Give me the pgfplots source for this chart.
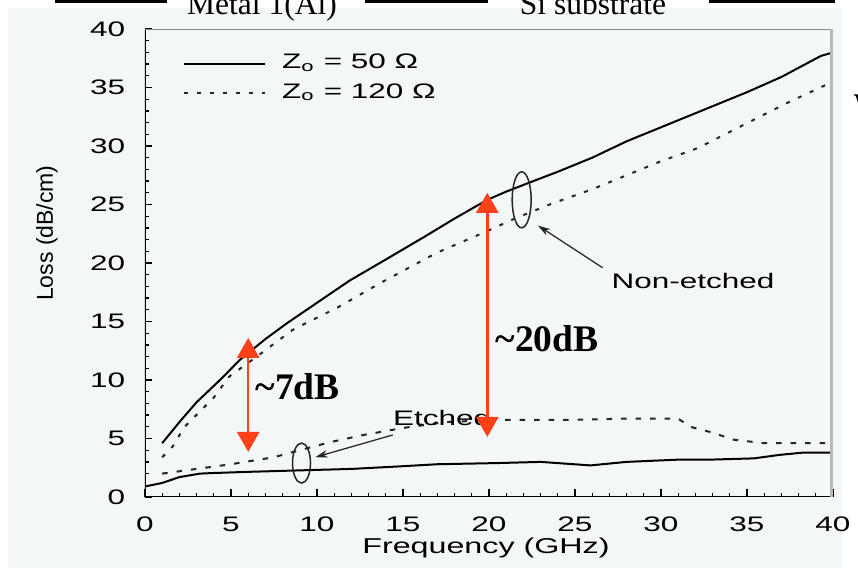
\documentclass[border=0pt]{standalone}
\usepackage{fontspec}
\setmainfont{Liberation Sans}
\newfontfamily\wsans[FakeStretch=1.5]{Liberation Sans}
\newfontfamily\tnr{Liberation Serif}
\usepackage{pgfplots}
\pgfplotsset{compat=1.18}
\usetikzlibrary{arrows.meta}
\definecolor{bggray}{RGB}{244,247,247}
\definecolor{annred}{RGB}{255,64,25}

\pgfplotstableread{
x y
1 4.6
2 6.4
3 8.1
4.5 10.2
5.5 11.7
7 13.5
8.3 14.9
10 16.6
11.9 18.5
14 20.3
16.2 22.2
18 23.8
19.9 25.4
21 26.1
22.4 26.9
24 27.8
26 29.0
28 30.4
31 32.2
33 33.4
35 34.6
37 35.9
39.3 37.7
40 38.0
}\nefifty

\pgfplotstableread{
x y
1 3.4
1.6 4.3
2.3 6.0
4 8.5
4.9 10.3
6.5 12.0
8.6 14.3
11.2 16.2
13.7 18.3
17 20.9
19.7 22.6
21.5 23.8
23.7 25.1
26 26.3
28 27.5
30 28.7
32.1 29.8
34 31.2
35.6 32.4
37.5 33.8
40 35.5
}\neonetwenty

\pgfplotstableread{
x y
0 0.9
1 1.2
2 1.7
3.2 2.0
4 2.05
6 2.15
9.6 2.3
12 2.4
14.6 2.6
17 2.8
20.5 2.9
23 3.0
25.9 2.7
28 3.0
31.1 3.2
33 3.2
35.4 3.3
36.9 3.6
38.3 3.8
40 3.8
}\etfifty

\pgfplotstableread{
x y
1 2.0
3 2.4
5 2.8
7.5 3.4
9 4.0
10.8 4.7
12.7 5.3
15 5.9
17.5 6.4
20.5 6.6
25 6.6
28 6.7
31 6.7
31.7 6.0
33 5.5
34.2 4.9
36 4.6
40 4.6
}\etonetwenty

\begin{document}
\begin{tikzpicture}
\useasboundingbox (-58pt,-28.4pt) rectangle (285.2pt,198.8pt);
\clip (-58pt,-28.4pt) rectangle (285.2pt,198.8pt);
\fill[white] (-58pt,-28.4pt) rectangle (285.2pt,198.8pt);
\fill[bggray] (-54.8pt,-28.4pt) rectangle (278.8pt,195.6pt);
% partial top strip
\fill[black] (-36pt,197.4pt) rectangle (8.8pt,198.8pt);
\fill[black] (88pt,197.4pt) rectangle (137.2pt,198.8pt);
\fill[black] (225.6pt,197.4pt) rectangle (276pt,198.8pt);
\node[anchor=base, inner sep=0pt, font=\tnr\fontsize{12.6}{14}\selectfont] at (46.8pt,192.8pt) {Metal 1(Al)};
\node[anchor=base, inner sep=0pt, font=\tnr\fontsize{12.6}{14}\selectfont] at (179.2pt,192.8pt) {Si substrate};
\node[anchor=north west, inner sep=0pt, font=\tnr\bfseries\fontsize{12}{14}\selectfont] at (283.2pt,161pt) {W};

\begin{axis}[
  width=275.2pt, height=187.2pt, scale only axis,
  xmin=0, xmax=40, ymin=0, ymax=40,
  xtick={0,5,...,40}, ytick={0,5,...,40},
  minor x tick num=4, minor y tick num=4,
  tick align=inside, tick pos=left,
  major tick length=3pt, minor tick length=1.6pt,
  tick style={black, line width=0.5pt},
  axis line style={draw=none},
  /pgf/number format/assume math mode=true,
  tick label style={font=\wsans\fontsize{8.4}{10}\selectfont},
  xticklabel style={yshift=-4.6pt},
  yticklabel style={xshift=-4.4pt},
  xlabel={Frequency (GHz)},
  ylabel={Loss (dB/cm)},
  xlabel style={font=\wsans\fontsize{8.6}{10}\selectfont, at={(axis description cs:0.4956,0)}, anchor=center, yshift=-20.4pt},
  ylabel style={font=\fontsize{9.2}{10}\selectfont, at={(axis description cs:0,0.564)}, anchor=center, yshift=39.2pt},
  legend style={at={(axis description cs:0,1)}, anchor=north west, xshift=15pt, yshift=-8.2pt,
    draw=none, fill=none, inner sep=0pt, row sep=0.8pt,
    font=\wsans\fontsize{8.4}{10}\selectfont,
    nodes={inner sep=1.5pt, text height=6pt, text depth=2pt},
    /tikz/every odd column/.append style={column sep=5pt}},
  legend cell align=left,
  legend image code/.code={\draw[#1] (0pt,0pt) -- (32.4pt,0pt);},
]
\addplot[black, line width=0.8pt] table {\nefifty};
\addlegendentry{Z\textsubscript{o} = 50 Ω}
\addplot[black!85, line width=0.8pt, dash pattern=on 1.6pt off 3.6pt] table {\neonetwenty};
\addlegendentry{Z\textsubscript{o} = 120 Ω}
\addplot[black, line width=0.8pt, forget plot] table {\etfifty};
\addplot[black!85, line width=0.8pt, dash pattern=on 2.2pt off 3.6pt, forget plot] table {\etonetwenty};

% axis frame
\draw[black, line width=0.6pt] (axis description cs:0,1) -- (axis description cs:0,0) -- (axis description cs:1,0);
\draw[black!45, line width=0.5pt] (axis description cs:0,1) -- (axis description cs:1,1);
\draw[black!28, line width=2pt] (axis description cs:1,1) -- (axis description cs:1,0);

% ellipses and pointers
\draw[black!85, line width=0.6pt] (axis cs:9.1,2.9) ellipse [x radius=3.6pt, y radius=8pt];
\draw[black!85, line width=0.6pt] (axis cs:21.9,25.4) ellipse [x radius=3.8pt, y radius=11.2pt];
\draw[black!85, line width=0.5pt, -{Stealth[length=5pt,width=3pt]}] (axis cs:14.4,5.3) -- (axis cs:9.9,3.4);
\draw[black!85, line width=0.5pt, -{Stealth[length=5pt,width=3pt]}] (axis cs:26.6,19.6) -- (axis cs:22.85,23.2);
\node[anchor=base, inner sep=0pt, font=\wsans\fontsize{8.4}{10}\selectfont] at (axis cs:17.27,6.15) {Etched};
\node[anchor=base, inner sep=0pt, font=\wsans\fontsize{8.4}{10}\selectfont] at (axis cs:31.86,17.8) {Non-etched};

% red annotations
\draw[annred, line width=1pt, {Triangle[width=8.8pt,length=8pt]}-{Triangle[width=8.8pt,length=8pt]}] (axis cs:6,13.6) -- (axis cs:6,3.85);
\draw[annred, line width=1pt, {Triangle[width=8.8pt,length=8pt]}-{Triangle[width=8.8pt,length=8pt]}] (axis cs:19.9,26.0) -- (axis cs:19.9,5.13);
\node[anchor=base west, inner sep=0pt, font=\tnr\bfseries\fontsize{15}{17}\selectfont] at (axis cs:6.4,8.3) {\textasciitilde 7dB};
\node[anchor=base west, inner sep=0pt, font=\tnr\bfseries\fontsize{15}{17}\selectfont] at (axis cs:20.35,12.4) {\textasciitilde 20dB};
\end{axis}
\end{tikzpicture}
\end{document}
